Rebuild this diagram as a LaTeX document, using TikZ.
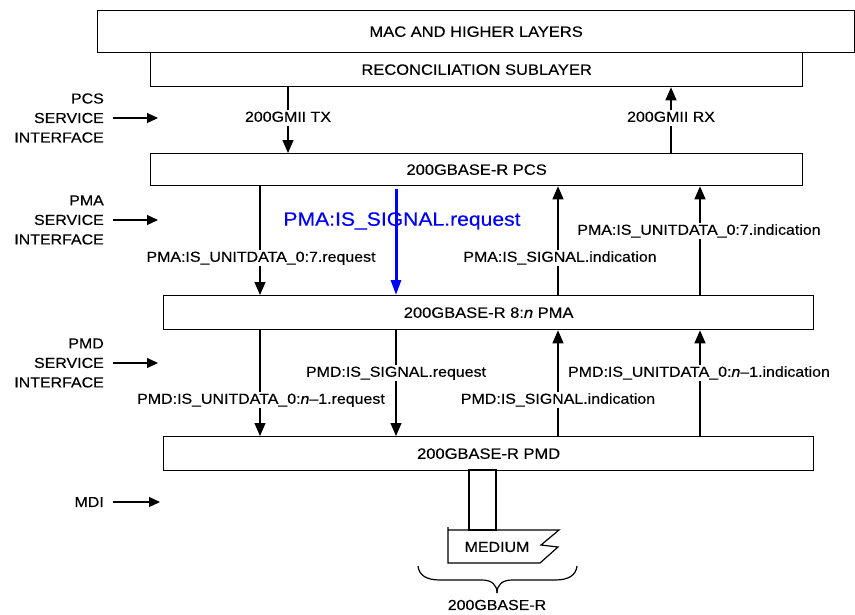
\documentclass[tikz,border=0pt]{standalone}
\usepackage{fontspec}
\setmainfont{Liberation Sans}[FakeStretch=1.10, FakeBold=0.3]
\usetikzlibrary{arrows.meta}
\begin{document}
\begin{tikzpicture}[x=1pt,y=-1pt,
  layerbox/.style={draw, line width=1.3pt, anchor=north west, inner sep=0pt,
    font=\fontsize{15}{16}\selectfont},
  arr/.style={line width=1.2pt, -{Triangle[length=13pt,width=11pt]}},
  sidearr/.style={line width=1.2pt, -{Triangle[length=11pt,width=10pt]}},
  bluearr/.style={draw=blue, line width=3pt, -{Triangle[length=15pt,width=10pt]}},
  lbl/.style={fill=white, inner sep=1.2pt, text height=10.5pt, text depth=3pt,
    font=\fontsize{14.5}{16}\selectfont},
  bluelbl/.style={text=blue, inner sep=0pt, font=\fontsize{19.2}{20}\selectfont},
  sidelbl/.style={align=right, anchor=east, inner sep=0pt,
    font=\fontsize{14.5}{19.5}\selectfont},
  thin/.style={line width=1.2pt}]
\useasboundingbox (0,0) rectangle (855,614);

% layer stack
\node[layerbox, minimum width=757pt, minimum height=42pt] (mac) at (97,10) {MAC AND HIGHER LAYERS};
\node[layerbox, minimum width=652pt, minimum height=34pt] (rs) at (150,52) {RECONCILIATION SUBLAYER};
\node[layerbox, minimum width=652pt, minimum height=32pt] (pcs) at (150,153) {200GBASE-R PCS};
\node[layerbox, minimum width=650pt, minimum height=34pt] (pma) at (163,295) {200GBASE-R 8:\textit{n} PMA};
\node[layerbox, minimum width=650pt, minimum height=34pt] (pmd) at (163,436) {200GBASE-R PMD};

% columns of the service primitives
\coordinate (xtx) at (288,0);
\coordinate (xrx) at (671,0);
\coordinate (xa) at (260,0);
\coordinate (xb) at (396,0);
\coordinate (xc) at (558,0);
\coordinate (xd) at (700,0);

% 200GMII
\draw[arr] (xtx |- rs.south) -- (xtx |- pcs.north);
\draw[arr] (xrx |- pcs.north) -- (xrx |- rs.south);
\node[lbl] (ltx) at (288,118) {200GMII TX};
\node[lbl] (lrx) at (671,118) {200GMII RX};

% PMA service interface
\draw[arr] (xa |- pcs.south) -- (xa |- pma.north);
\draw[arr] (xc |- pma.north) -- (xc |- pcs.south);
\draw[arr] (xd |- pma.north) -- (xd |- pcs.south);
\node[lbl] (l1) at (261,258) {PMA:IS\_UNITDATA\_0:7.request};
\node[lbl] (l2) at (560,258) {PMA:IS\_SIGNAL.indication};
\node[lbl] (l3) at (699,231) {PMA:IS\_UNITDATA\_0:7.indication};
\node[bluelbl] (lsig) at (402,221) {PMA:IS\_SIGNAL.request};
\draw[bluearr] ([yshift=-3pt]xb |- pcs.south) -- (xb |- pma.north);

% PMD service interface
\draw[arr] (xa |- pma.south) -- (xa |- pmd.north);
\draw[arr] (xb |- pma.south) -- (xb |- pmd.north);
\draw[arr] (xc |- pmd.north) -- (xc |- pma.south);
\draw[arr] (xd |- pmd.north) -- (xd |- pma.south);
\node[lbl] (m1) at (261,400) {PMD:IS\_UNITDATA\_0:\textit{n}\textendash1.request};
\node[lbl] (m2) at (396,373) {PMD:IS\_SIGNAL.request};
\node[lbl] (m3) at (558,400) {PMD:IS\_SIGNAL.indication};
\node[lbl] (m4) at (699,373) {PMD:IS\_UNITDATA\_0:\textit{n}\textendash1.indication};

% interface markers on the left
\node[sidelbl] (pcsif) at (104,118) {PCS\\SERVICE\\INTERFACE};
\node[sidelbl] (pmaif) at (104,220) {PMA\\SERVICE\\INTERFACE};
\node[sidelbl] (pmdif) at (104,363) {PMD\\SERVICE\\INTERFACE};
\node[sidelbl] (mdi) at (104,502) {MDI};
\coordinate (pcsarr) at (158,118);
\coordinate (pmaarr) at (158,220);
\coordinate (pmdarr) at (158,363);
\coordinate (mdiarr) at (160,502);
\draw[sidearr] ([xshift=9pt]pcsif.east) -- (pcsarr);
\draw[sidearr] ([xshift=9pt]pmaif.east) -- (pmaarr);
\draw[sidearr] ([xshift=9pt]pmdif.east) -- (pmdarr);
\draw[sidearr] ([xshift=9pt]mdi.east) -- (mdiarr);

% MDI connector and medium
\draw[thin] (469,470) rectangle (496,530);
\draw[thin] (448,527) -- (448,563) -- (540,563) -- (558,547) -- (541,545)
  -- (559,530) -- (448,530);
\node[inner sep=0pt, font=\fontsize{14.5}{16}\selectfont] (medium) at (497,547) {MEDIUM};

% brace and PHY name
\draw[thin] (418,566) .. controls (419,575) and (426,580) .. (440,580) -- (482,580)
  .. controls (492,580) and (497,585) .. (497,593);
\draw[thin] (577,566) .. controls (576,575) and (569,580) .. (555,580) -- (512,580)
  .. controls (502,580) and (497,585) .. (497,593);
\node[inner sep=0pt, font=\fontsize{14.5}{16}\selectfont] (phy) at (497,605) {200GBASE-R};
\end{tikzpicture}
\end{document}
